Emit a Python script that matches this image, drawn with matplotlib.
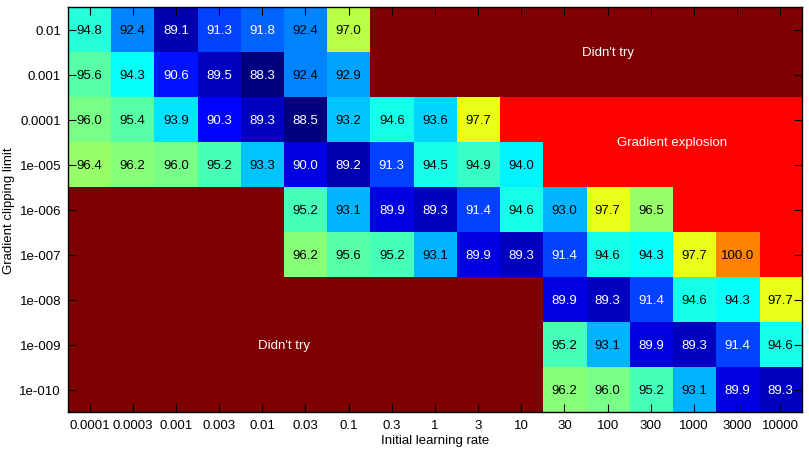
import numpy as np
import matplotlib
matplotlib.use("Agg")
import matplotlib.pyplot as plt
from matplotlib.colors import Normalize, LinearSegmentedColormap

plt.rcParams['font.family'] = ['Liberation Sans', 'DejaVu Sans']

learning_rates = ["0.0001", "0.0003", "0.001", "0.003", "0.01", "0.03", "0.1", "0.3",
                  "1", "3", "10", "30", "100", "300", "1000", "3000", "10000"]
clip_limits = ["0.01", "0.001", "0.0001", "1e-005", "1e-006", "1e-007", "1e-008", "1e-009", "1e-010"]

D = None   # didn't try
E = "E"    # gradient explosion

row_0_01   = [94.8, 92.4, 89.1, 91.3, 91.8, 92.4, 97.0, D, D, D, D, D, D, D, D, D, D]
row_0_001  = [95.6, 94.3, 90.6, 89.5, 88.3, 92.4, 92.9, D, D, D, D, D, D, D, D, D, D]
row_0_0001 = [96.0, 95.4, 93.9, 90.3, 89.3, 88.5, 93.2, 94.6, 93.6, 97.7, E, E, E, E, E, E, E]
row_1e_5   = [96.4, 96.2, 96.0, 95.2, 93.3, 90.0, 89.2, 91.3, 94.5, 94.9, 94.0, E, E, E, E, E, E]
row_1e_6   = [D, D, D, D, D, 95.2, 93.1, 89.9, 89.3, 91.4, 94.6, 93.0, 97.7, 96.5, E, E, E]
row_1e_7   = [D, D, D, D, D, 96.2, 95.6, 95.2, 93.1, 89.9, 89.3, 91.4, 94.6, 94.3, 97.7, 100.0, E]
row_1e_8   = [D, D, D, D, D, D, D, D, D, D, D, 89.9, 89.3, 91.4, 94.6, 94.3, 97.7]
row_1e_9   = [D, D, D, D, D, D, D, D, D, D, D, 95.2, 93.1, 89.9, 89.3, 91.4, 94.6]
row_1e_10  = [D, D, D, D, D, D, D, D, D, D, D, 96.2, 96.0, 95.2, 93.1, 89.9, 89.3]

rows = [row_0_01, row_0_001, row_0_0001, row_1e_5, row_1e_6, row_1e_7, row_1e_8, row_1e_9, row_1e_10]

# MATLAB-style jet colormap (64 levels)
matlab_jet = LinearSegmentedColormap("matlab_jet", {
    "red":   [(0, 0, 0), (0.375, 0, 0), (0.625, 1, 1), (0.875, 1, 1), (1, 0.5, 0.5)],
    "green": [(0, 0, 0), (0.125, 0, 0), (0.375, 1, 1), (0.625, 1, 1), (0.875, 0, 0), (1, 0, 0)],
    "blue":  [(0, 0.5, 0.5), (0.125, 1, 1), (0.375, 1, 1), (0.625, 0, 0), (1, 0, 0)],
}, N=64)

VMIN, VMAX = 88.3, 103.9
EXPLODE_LEVEL = VMIN + 0.862 * (VMAX - VMIN)   # pure red
DIDNT_LEVEL = VMAX                              # dark red

grid = np.array([[DIDNT_LEVEL if v is None else (EXPLODE_LEVEL if v == E else v) for v in r]
                 for r in rows], dtype=float)

fig = plt.figure(figsize=(8.09, 4.52), dpi=100)
ax = fig.add_axes([0.084, 0.0863, 0.9073, 0.8957])
ax.imshow(grid, cmap=matlab_jet, norm=Normalize(VMIN, VMAX), aspect="auto", interpolation="nearest")

for i, r in enumerate(rows):
    for j, v in enumerate(r):
        if v is None or v == E:
            continue
        ax.text(j, i, f"{v:.1f}", ha="center", va="center", fontsize=9.5,
                color="white" if v < 92 else "black")

ax.text(12, 0.5, "Didn't try", ha="center", va="center", fontsize=9.5, color="white")
ax.text(13.5, 2.5, "Gradient explosion", ha="center", va="center", fontsize=9.5, color="white")
ax.text(4.5, 7, "Didn't try", ha="center", va="center", fontsize=9.5, color="white")

ax.set_xticks(range(len(learning_rates)))
ax.set_xticklabels(learning_rates)
ax.set_yticks(range(len(clip_limits)))
ax.set_yticklabels(clip_limits)
ax.tick_params(direction="in", length=6, width=0.8, labelsize=9.5, top=True, right=True,
               pad=5, color="black")
ax.set_xlabel("Initial learning rate", fontsize=9.5, labelpad=2)
ax.set_ylabel("Gradient clipping limit", fontsize=9.5, labelpad=3)
for s in ax.spines.values():
    s.set_linewidth(1.0)

fig.savefig("out.png", dpi=100)
